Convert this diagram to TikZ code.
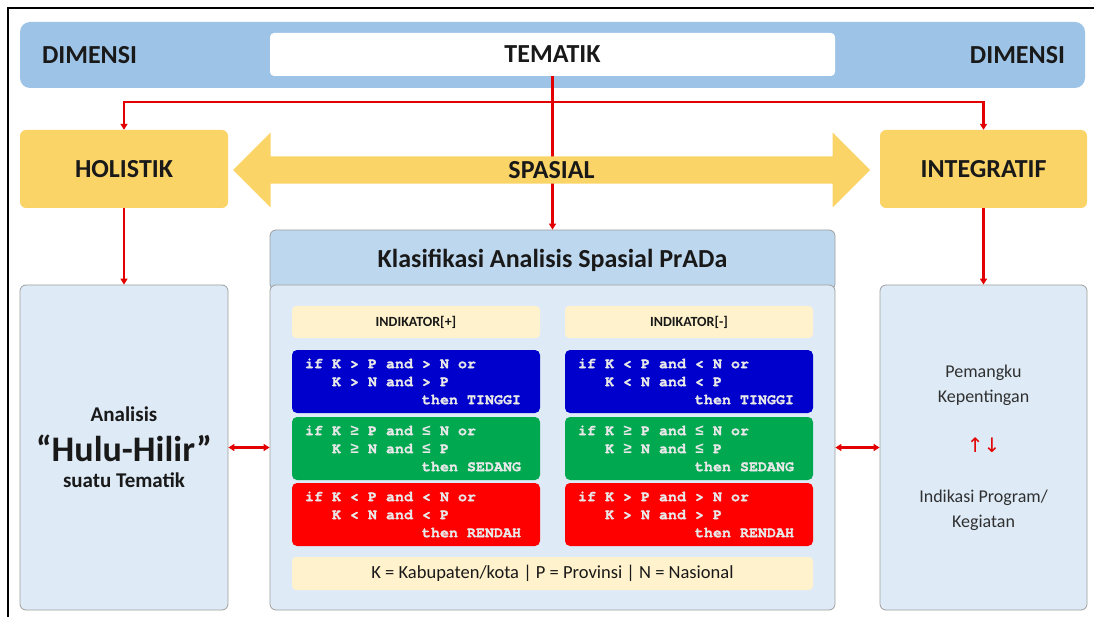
\documentclass[tikz,border=0pt]{standalone}
\usepackage{fontspec}
\setmainfont{Carlito}
\newfontfamily\codefont{texgyrecursor}[Extension=.otf, UprightFont=*-regular, BoldFont=*-bold, BoldFeatures={FakeBold=1.2}]
\newfontfamily\relfont{Liberation Mono}
\newfontfamily\symfont{DejaVu Sans}
\usetikzlibrary{shapes.arrows,arrows.meta,positioning}
\definecolor{barblue}{RGB}{157,195,230}
\definecolor{paleblue}{RGB}{222,235,247}
\definecolor{headblue}{RGB}{189,215,238}
\definecolor{goldfill}{RGB}{250,212,102}
\definecolor{cream}{RGB}{255,242,204}
\definecolor{codeblue}{RGB}{0,0,204}
\definecolor{codegreen}{RGB}{0,168,80}
\definecolor{codered}{RGB}{255,0,0}
\definecolor{linkred}{RGB}{226,0,0}
\definecolor{ink}{RGB}{25,25,25}
\definecolor{codeink}{RGB}{232,232,232}
\newcommand{\rulelines}[3]{\spaceskip=9pt\relax if #1\\\hspace*{27pt}#2\\\hspace*{117pt}then #3}
\newcommand{\geqc}{{\relfont\bfseries ≥}}
\newcommand{\leqc}{{\relfont\bfseries ≤}}
\tikzset{
  box/.style={rectangle, rounded corners=6pt, align=center, inner sep=0pt, text=ink},
  bar/.style={box, fill=barblue, rounded corners=10pt},
  bigtxt/.style={inner sep=0pt, text=ink, font=\fontsize{26}{30}\selectfont\bfseries},
  goldbox/.style={box, fill=goldfill, minimum width=208pt, minimum height=78pt, font=\fontsize{26}{30}\selectfont\bfseries},
  panel/.style={box, draw=gray!75, line width=0.8pt, fill=paleblue, minimum height=325pt},
  tag/.style={box, fill=cream, rounded corners=4pt, minimum width=248pt, minimum height=32pt, font=\fontsize{14}{16}\selectfont\bfseries},
  codebox/.style={rectangle, rounded corners=5pt, minimum height=63pt, text width=222pt, inner xsep=13pt, align=left, text=codeink, font=\codefont\bfseries\fontsize{15}{18}\selectfont},
  link/.style={draw=linkred, line width=2.4pt},
  arr/.style={link, -{Triangle[length=6pt,width=7pt]}},
  arrboth/.style={link, {Triangle[length=6pt,width=7pt]}-{Triangle[length=6pt,width=7pt]}}
}
\begin{document}
\begin{tikzpicture}[x=1pt,y=-1pt]
\useasboundingbox (0,0) rectangle (1094,617);
\fill[white] (0,0) rectangle (1094,617);
\draw[line width=2pt] (8,617) -- (8,8) -- (1094,8);

\node[bar, minimum width=1065pt, minimum height=66pt] (dim) at (552.5,55) {};
\node[bigtxt, anchor=west] (diml) at ([xshift=22pt]dim.west) {DIMENSI};
\node[bigtxt, anchor=east] (dimr) at ([xshift=-20pt]dim.east) {DIMENSI};
\node[box, fill=white, rounded corners=4pt, minimum width=565pt, minimum height=43pt, font=\fontsize{26}{30}\selectfont\bfseries] (tem) at (552.5,54.5) {TEMATIK};

\node[goldbox] (hol) at (124,169) {HOLISTIK};
\node[goldbox, minimum width=207pt] (int) at (983.5,169) {INTEGRATIF};

\node[box, draw=gray!75, line width=0.8pt, fill=headblue, minimum width=565pt, minimum height=60pt, font=\fontsize{26}{30}\selectfont\bfseries] (kls) at (552.5,260) {Klasifikasi Analisis Spasial PrADa};
\node[panel, minimum width=565pt] (klsb) at (552.5,447.5) {};

\node[tag] (indp) at (416,322) {INDIKATOR[+]};
\node[tag] (indm) at (689,322) {INDIKATOR[-]};
\node[codebox, fill=codeblue] (p1) at (416,381.5) {\rulelines{K > P and > N or}{K > N and > P}{TINGGI}};
\node[codebox, fill=codegreen] (p2) at (416,448.5) {\rulelines{K \geqc{} P and \leqc{} N or}{K \geqc{} N and \leqc{} P}{SEDANG}};
\node[codebox, fill=codered] (p3) at (416,514.5) {\rulelines{K < P and < N or}{K < N and < P}{RENDAH}};
\node[codebox, fill=codeblue] (m1) at (689,381.5) {\rulelines{K < P and < N or}{K < N and < P}{TINGGI}};
\node[codebox, fill=codegreen] (m2) at (689,448.5) {\rulelines{K \geqc{} P and \leqc{} N or}{K \geqc{} N and \leqc{} P}{SEDANG}};
\node[codebox, fill=codered] (m3) at (689,514.5) {\rulelines{K > P and > N or}{K > N and > P}{RENDAH}};
\node[tag, minimum width=521pt, minimum height=33pt, font=\fontsize{18.5}{22}\selectfont] (key) at (552.5,573.5) {K = Kabupaten/kota | P = Provinsi | N = Nasional};

\node[panel, minimum width=208pt, font=\fontsize{21}{24}\selectfont\bfseries] (hulu) at (124,447.5) {Analisis\\[12pt]{\fontsize{36}{40}\selectfont “Hulu-Hilir”}\\[2pt]suatu Tematik};
\node[panel, minimum width=207pt, text=ink!90, font=\fontsize{18}{25}\selectfont] (pk) at (983.5,447.5) {Pemangku\\Kepentingan\\[25pt]{\symfont\fontsize{20}{25}\selectfont\color{linkred}↑↓}\\[25pt]Indikasi Program/\\Kegiatan};

\coordinate (fork) at (552.5,102);
\draw[arr] (tem.south) -- (kls.north);
\draw[arr] (fork) -| (hol.north);
\draw[arr] (fork) -| (int.north);
\node[double arrow, fill=goldfill, minimum height=637pt, minimum width=75pt, double arrow head extend=15.5pt, inner sep=0pt, text=ink, font=\fontsize{26}{30}\selectfont\bfseries] (spa) at (551.5,170) {SPASIAL};

\draw[arr] (hol.south) -- (hulu.north);
\draw[arr] (int.south) -- (pk.north);
\draw[arrboth] (hulu.east) -- (klsb.west);
\draw[arrboth] (klsb.east) -- (pk.west);
\end{tikzpicture}
\end{document}
